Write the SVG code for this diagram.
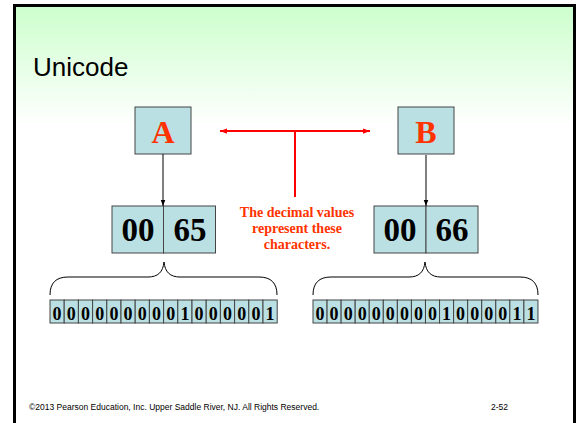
<svg xmlns="http://www.w3.org/2000/svg" width="578" height="423" viewBox="0 0 578 423">
<defs>
<linearGradient id="bg" x1="0" y1="0" x2="0" y2="1" gradientUnits="objectBoundingBox">
<stop offset="0" stop-color="#ccffcc"/>
<stop offset="0.28" stop-color="#ffffff"/>
<stop offset="1" stop-color="#ffffff"/>
</linearGradient>
<marker id="ab" viewBox="0 0 8 8" refX="8" refY="4" markerWidth="6" markerHeight="6" orient="auto" markerUnits="userSpaceOnUse">
<path d="M0,1 L8,4 L0,7 Z" fill="#000"/>
</marker>
<marker id="ar" viewBox="0 0 8 8" refX="8" refY="4" markerWidth="7" markerHeight="7" orient="auto-start-reverse" markerUnits="userSpaceOnUse">
<path d="M0,1 L8,4 L0,7 Z" fill="#ff0000"/>
</marker>
</defs>
<style>
.cell{fill:#bae0e3;stroke:#444;stroke-width:1}
.big{font-family:"Liberation Serif",serif;font-weight:bold;font-size:33px;text-anchor:middle;fill:#000}
.let{font-family:"Liberation Serif",serif;font-weight:bold;font-size:32px;text-anchor:middle;fill:#ff3300}
.bit{font-family:"Liberation Serif",serif;font-weight:bold;font-size:18px;text-anchor:middle;fill:#000}
.note{font-family:"Liberation Serif",serif;font-weight:bold;font-size:14px;text-anchor:middle;fill:#ff3300}
.brace{fill:none;stroke:#000;stroke-width:1}
</style>
<rect x="0" y="0" width="578" height="423" fill="#fff"/>
<rect x="14.5" y="5.5" width="560" height="430" fill="url(#bg)" stroke="#000" stroke-width="3"/>
<text x="33" y="76" font-family="Liberation Sans, Arial, sans-serif" font-size="26" fill="#000">Unicode</text>

<g id="charA"><rect class="cell" x="135" y="107" width="56" height="47"/><text class="let" x="163" y="143">A</text></g>
<g id="charB"><rect class="cell" x="398" y="107" width="56" height="47"/><text class="let" x="426" y="143">B</text></g>

<g id="codeA"><rect class="cell" x="112" y="206" width="51.5" height="47"/><rect class="cell" x="163.5" y="206" width="52" height="47"/>
<text class="big" x="138" y="241">00</text><text class="big" x="190" y="241">65</text></g>
<g id="codeB"><rect class="cell" x="374" y="206" width="52" height="47"/><rect class="cell" x="426" y="206" width="52" height="47"/>
<text class="big" x="400" y="241">00</text><text class="big" x="452" y="241">66</text></g>

<g id="note"><text class="note" x="297" y="217">The decimal values</text><text class="note" x="297" y="233">represent these</text><text class="note" x="297" y="249">characters.</text></g>

<g id="bitsA">
<rect class="cell" x="50" y="300" width="14.2" height="23"/><rect class="cell" x="64.2" y="300" width="14.2" height="23"/><rect class="cell" x="78.4" y="300" width="14.2" height="23"/><rect class="cell" x="92.6" y="300" width="14.2" height="23"/><rect class="cell" x="106.8" y="300" width="14.2" height="23"/><rect class="cell" x="121" y="300" width="14.2" height="23"/><rect class="cell" x="135.2" y="300" width="14.2" height="23"/><rect class="cell" x="149.4" y="300" width="14.2" height="23"/><rect class="cell" x="163.6" y="300" width="14.2" height="23"/><rect class="cell" x="177.8" y="300" width="14.2" height="23"/><rect class="cell" x="192" y="300" width="14.2" height="23"/><rect class="cell" x="206.2" y="300" width="14.2" height="23"/><rect class="cell" x="220.4" y="300" width="14.2" height="23"/><rect class="cell" x="234.6" y="300" width="14.2" height="23"/><rect class="cell" x="248.8" y="300" width="14.2" height="23"/><rect class="cell" x="263" y="300" width="14.2" height="23"/>
<text class="bit" y="320"><tspan x="57.1">0</tspan><tspan x="71.3">0</tspan><tspan x="85.5">0</tspan><tspan x="99.7">0</tspan><tspan x="113.9">0</tspan><tspan x="128.1">0</tspan><tspan x="142.3">0</tspan><tspan x="156.5">0</tspan><tspan x="170.7">0</tspan><tspan x="184.9">1</tspan><tspan x="199.1">0</tspan><tspan x="213.3">0</tspan><tspan x="227.5">0</tspan><tspan x="241.7">0</tspan><tspan x="255.9">0</tspan><tspan x="270.1">1</tspan></text>
</g>
<g id="bitsB">
<rect class="cell" x="313" y="300" width="14.06" height="23"/><rect class="cell" x="327.06" y="300" width="14.06" height="23"/><rect class="cell" x="341.12" y="300" width="14.06" height="23"/><rect class="cell" x="355.18" y="300" width="14.06" height="23"/><rect class="cell" x="369.24" y="300" width="14.06" height="23"/><rect class="cell" x="383.3" y="300" width="14.06" height="23"/><rect class="cell" x="397.36" y="300" width="14.06" height="23"/><rect class="cell" x="411.42" y="300" width="14.06" height="23"/><rect class="cell" x="425.48" y="300" width="14.06" height="23"/><rect class="cell" x="439.54" y="300" width="14.06" height="23"/><rect class="cell" x="453.6" y="300" width="14.06" height="23"/><rect class="cell" x="467.66" y="300" width="14.06" height="23"/><rect class="cell" x="481.72" y="300" width="14.06" height="23"/><rect class="cell" x="495.78" y="300" width="14.06" height="23"/><rect class="cell" x="509.84" y="300" width="14.06" height="23"/><rect class="cell" x="523.9" y="300" width="14.06" height="23"/>
<text class="bit" y="320"><tspan x="320">0</tspan><tspan x="334.1">0</tspan><tspan x="348.2">0</tspan><tspan x="362.2">0</tspan><tspan x="376.3">0</tspan><tspan x="390.3">0</tspan><tspan x="404.4">0</tspan><tspan x="418.5">0</tspan><tspan x="432.5">0</tspan><tspan x="446.6">1</tspan><tspan x="460.6">0</tspan><tspan x="474.7">0</tspan><tspan x="488.8">0</tspan><tspan x="502.8">0</tspan><tspan x="516.9">1</tspan><tspan x="530.9">1</tspan></text>
</g>

<g id="connectors">
<line x1="163" y1="154" x2="163" y2="206" stroke="#000" stroke-width="1" marker-end="url(#ab)"/>
<line x1="426" y1="155" x2="426" y2="206" stroke="#000" stroke-width="1" marker-end="url(#ab)"/>
<line x1="220" y1="131" x2="370" y2="131" stroke="#ff0000" stroke-width="2" marker-start="url(#ar)" marker-end="url(#ar)"/>
<line x1="295" y1="131" x2="295" y2="197" stroke="#ff0000" stroke-width="2"/>
<path class="brace" d="M50,295 C50,283 56,277 68,277 L148,277 C158,277 163,272 164,262 C165,272 170,277 180,277 L259,277 C271,277 277,283 277,295"/>
<path class="brace" d="M313,295 C313,283 319,277 331,277 L409,277 C419,277 424,272 425,262 C426,272 431,277 441,277 L520,277 C532,277 538,283 538,295"/>
</g>

<text x="29" y="410" font-family="Liberation Sans, Arial, sans-serif" font-size="8.5" fill="#000">©2013 Pearson Education, Inc. Upper Saddle River, NJ. All Rights Reserved.</text>
<text x="508" y="410" font-family="Liberation Sans, Arial, sans-serif" font-size="8.5" fill="#000" text-anchor="end">2-52</text>
</svg>
